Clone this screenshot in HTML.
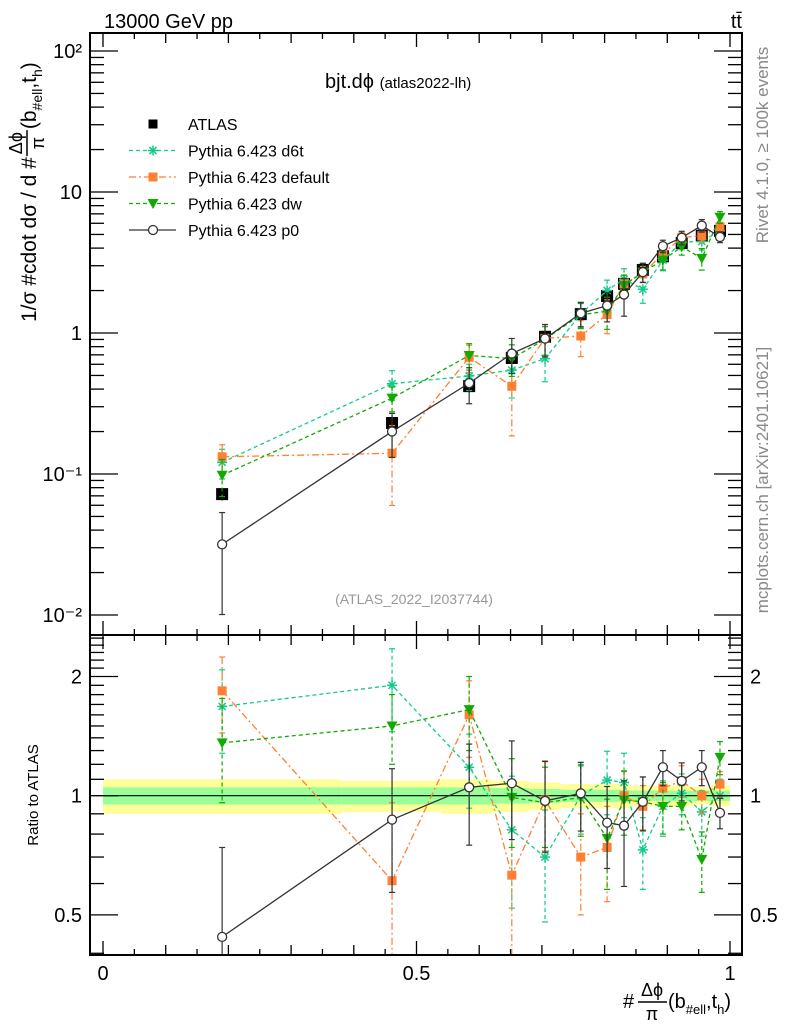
<!DOCTYPE html>
<html><head><meta charset="utf-8"><style>
body{margin:0;background:#fff;}
svg text{font-family:"Liberation Sans",sans-serif;}
</style></head><body>
<svg id="c" width="786" height="1024" xmlns="http://www.w3.org/2000/svg">
<text x="104" y="28" font-size="20">13000 GeV pp</text>
<text x="742" y="28" font-size="20" text-anchor="end">tt̄</text>
<text x="325" y="88" font-size="20">bjt.dϕ <tspan font-size="15">(atlas2022-lh)</tspan></text>
<text x="414" y="604" font-size="14" fill="#999" text-anchor="middle">(ATLAS_2022_I2037744)</text>
<text transform="translate(768,145) rotate(-90)" font-size="17" fill="#888" text-anchor="middle">Rivet 4.1.0, ≥ 100k events</text>
<text transform="translate(768,480) rotate(-90)" font-size="17" fill="#888" text-anchor="middle">mcplots.cern.ch [arXiv:2401.10621]</text>
<g id="ytitle" transform="translate(42,322) rotate(-90)">
<text id="yt1" x="0" y="0" font-size="21">1/σ #cdot dσ / d #</text>
<text id="yt2" x="190" y="-18" font-size="18" text-anchor="middle">Δϕ</text>
<line id="yt3" x1="178" y1="-13" x2="202" y2="-13" stroke="#000" stroke-width="1.5"/>
<text id="yt4" x="190" y="4" font-size="18" text-anchor="middle">π</text>
<text id="yt5" x="204" y="-6" font-size="21">(b<tspan dy="6" font-size="14">#ell</tspan><tspan dy="-6">,t</tspan><tspan dy="6" font-size="14">h</tspan><tspan dy="-6">)</tspan></text>
</g>
<text transform="translate(38,795) rotate(-90)" font-size="15" text-anchor="middle">Ratio to ATLAS</text>
<g>
<text x="623" y="1008" font-size="20">#</text>
<text x="652" y="996" font-size="18" text-anchor="middle">Δϕ</text>
<line x1="638" y1="1002" x2="667" y2="1002" stroke="#000" stroke-width="1.5"/>
<text x="652" y="1020" font-size="18" text-anchor="middle">π</text>
<text x="668" y="1008" font-size="20">(b<tspan dy="6" font-size="13">#ell</tspan><tspan dy="-6">,t</tspan><tspan dy="6" font-size="13">h</tspan><tspan dy="-6">)</tspan></text>
</g>
<g id="g"></g>
</svg>
<script>
const xs=[0.19,0.461,0.584,0.652,0.705,0.762,0.804,0.831,0.861,0.893,0.923,0.955,0.984];
const atlas=[0.072,0.23,0.42,0.665,0.94,1.36,1.83,2.23,2.8,3.5,4.35,4.9,5.3];
const rD6t=[1.68,1.90,1.18,0.82,0.70,1.0,1.095,1.08,0.73,0.94,1.015,0.91,1.0];
const rDef=[1.84,0.61,1.60,0.63,0.975,0.70,0.74,1.0,0.94,1.045,1.09,1.0,1.07];
const rDw=[1.36,1.50,1.65,0.99,0.96,0.99,0.78,0.975,0.965,0.94,0.94,0.69,1.25];
const rP0=[0.44,0.87,1.05,1.075,0.97,1.014,0.855,0.84,0.965,1.18,1.09,1.18,0.905];
const eD6t=[0.4,0.45,0.25,0.3,0.22,0.2,0.2,0.2,0.15,0.15,0.12,0.12,0.1];
const eDef=[0.4,0.35,0.35,0.35,0.25,0.2,0.2,0.15,0.12,0.12,0.1,0.1,0.08];
const eDw=[0.4,0.3,0.35,0.25,0.22,0.2,0.2,0.18,0.15,0.14,0.12,0.12,0.12];
const eP0=[0.3,0.3,0.3,0.3,0.25,0.2,0.2,0.25,0.15,0.12,0.12,0.12,0.08];
const bandEdges=[0,0.38,0.54,0.62,0.68,0.73,0.78,0.82,0.84,0.87,0.90,0.94,0.97,1.0];
const bandTot=[0.10,0.09,0.10,0.09,0.08,0.07,0.07,0.07,0.06,0.06,0.06,0.05,0.06];
const bandStat=[0.05,0.05,0.05,0.045,0.04,0.035,0.035,0.035,0.03,0.03,0.03,0.03,0.03];
const yTickLabels=["10²","10","1","10⁻¹","10⁻²"];
const rTicks=[0.5,1,2];
const xTicks=[0,0.5,1];

// y-title layout
(function(){
 const w=document.getElementById('yt1').getComputedTextLength();
 const cx=w+14;
 document.getElementById('yt2').setAttribute('x',cx);
 document.getElementById('yt4').setAttribute('x',cx);
 document.getElementById('yt3').setAttribute('x1',cx-13);
 document.getElementById('yt3').setAttribute('x2',cx+13);
 document.getElementById('yt5').setAttribute('x',cx+14);
 document.getElementById('yt5').setAttribute('y',0);
 document.getElementById('yt2').setAttribute('y',-20);
 document.getElementById('yt3').setAttribute('y1',-15);
 document.getElementById('yt3').setAttribute('y2',-15);
 document.getElementById('yt4').setAttribute('y',2);
 document.getElementById('yt1').setAttribute('y',-6);
 document.getElementById('yt5').setAttribute('y',-6);
})();

const L=90,R=742,T=33,MB=635,RB=955;
const X=v=>103+627*v;
const Y=v=>333-141*Math.log10(v);
const RY=v=>795.7-396*Math.log10(v);
const NS="http://www.w3.org/2000/svg";
const g=document.getElementById('g');
function el(t,a,p){const e=document.createElementNS(NS,t);for(const k in a)e.setAttribute(k,a[k]);(p||g).appendChild(e);return e;}

const bandG=el('g',{});


for(let i=0;i<bandTot.length;i++){
 const x1=X(bandEdges[i]),x2=X(bandEdges[i+1]);
 el('rect',{x:x1,y:RY(1+bandTot[i]),width:x2-x1,height:RY(1-bandTot[i])-RY(1+bandTot[i]),fill:'#ffff99'},bandG);
}
for(let i=0;i<bandStat.length;i++){
 const x1=X(bandEdges[i]),x2=X(bandEdges[i+1]);
 el('rect',{x:x1,y:RY(1+bandStat[i]),width:x2-x1,height:RY(1-bandStat[i])-RY(1+bandStat[i]),fill:'#99ff99'},bandG);
}
el('line',{x1:X(0),x2:X(1),y1:RY(1),y2:RY(1),stroke:'#000','stroke-width':1.2});

const series=[
 {n:'d6t',r:rD6t,e:eD6t,c:'#11cc88',d:'4,3',m:'star'},
 {n:'default',r:rDef,e:eDef,c:'#ff7f33',d:'7,3,2,3',m:'sq'},
 {n:'dw',r:rDw,e:eDw,c:'#11aa00',d:'4,3',m:'tri'},
 {n:'p0',r:rP0,e:eP0,c:'#333',d:'',m:'circ'}
];
function marker(m,x,y,c,p){
 if(m==='sq')el('rect',{x:x-4.5,y:y-4.5,width:9,height:9,fill:c},p);
 else if(m==='tri')el('path',{d:`M${x-5.5},${y-4.5}L${x+5.5},${y-4.5}L${x},${y+5.5}Z`,fill:c},p);
 else if(m==='circ')el('circle',{cx:x,cy:y,r:4.5,fill:'#fff',stroke:c,'stroke-width':1.3},p);
 else if(m==='star'){for(let a=0;a<4;a++){const t=a*Math.PI/4;el('line',{x1:x-5*Math.cos(t),y1:y-5*Math.sin(t),x2:x+5*Math.cos(t),y2:y+5*Math.sin(t),stroke:c,'stroke-width':1.5},p);}}
 else if(m==='big')el('rect',{x:x-6,y:y-6,width:12,height:12,fill:c},p);
}
function drawSeries(s,yf,vals,errLo,errHi,top,bot,pname){
 const sg=el('g',{});
 
 
 const clip=v=>Math.max(top,Math.min(bot,v));
 let pts=xs.map((x,i)=>X(x)+','+clip(yf(vals[i]))).join(' ');
 el('polyline',{points:pts,fill:'none',stroke:s.c,'stroke-width':1.3,'stroke-dasharray':s.d},sg);
 xs.forEach((x,i)=>{
  const px=X(x),y1=clip(yf(errHi[i])),y2=clip(yf(errLo[i]));
  el('line',{x1:px,x2:px,y1:y1,y2:y2,stroke:s.c,'stroke-width':1.2,'stroke-dasharray':s.d},sg);
  el('line',{x1:px-3,x2:px+3,y1:y1,y2:y1,stroke:s.c,'stroke-width':1.2},sg);
  el('line',{x1:px-3,x2:px+3,y1:y2,y2:y2,stroke:s.c,'stroke-width':1.2},sg);
  const yy=yf(vals[i]);
  if(yy>=top&&yy<=bot)marker(s.m,px,yy,s.c,sg);
 });
}
const ag=el('g',{});


xs.forEach((x,i)=>{
 const px=X(x);
 el('line',{x1:px,x2:px,y1:Y(atlas[i]*(1+bandTot[i])),y2:Y(atlas[i]*(1-bandTot[i])),stroke:'#000','stroke-width':1.2},ag);
 marker('big',px,Y(atlas[i]),'#000',ag);
});
series.forEach(s=>{
 const v=atlas.map((a,i)=>a*s.r[i]);
 const lo=atlas.map((a,i)=>a*Math.max(0.01,s.r[i]-s.e[i]));
 const hi=atlas.map((a,i)=>a*(s.r[i]+s.e[i]));
 drawSeries(s,Y,v,lo,hi,T,MB,'main-series-'+s.n);
 const rlo=s.r.map((r,i)=>Math.max(0.01,r-s.e[i]));
 const rhi=s.r.map((r,i)=>r+s.e[i]);
 drawSeries(s,RY,s.r,rlo,rhi,MB,RB,'ratio-series-'+s.n);
});

el('rect',{x:L,y:T,width:R-L,height:MB-T,fill:'none',stroke:'#000','stroke-width':2});
el('rect',{x:L,y:MB,width:R-L,height:RB-MB,fill:'none',stroke:'#000','stroke-width':2});
for(let k=0;k<=20;k++){
 const v=k*0.05,px=X(v),maj=(k%10===0),len=maj?14:(k%2===0?10:6);
 [[T,1],[MB,-1],[MB,1],[RB,-1]].forEach(([y0,d])=>el('line',{x1:px,x2:px,y1:y0,y2:y0+d*len,stroke:'#000','stroke-width':1.3}));
}
xTicks.forEach(v=>{const t=el('text',{x:X(v),y:980,'font-size':20,'text-anchor':'middle'});t.textContent=String(v);

});
for(let e=-2;e<=2;e++){
 for(let m=1;m<=9;m++){
  const v=m*Math.pow(10,e),py=Y(v);
  if(py<T||py>MB)continue;
  const len=m===1?28:14;
  el('line',{x1:L,x2:L+len,y1:py,y2:py,stroke:'#000','stroke-width':1.3});
  el('line',{x1:R,x2:R-len,y1:py,y2:py,stroke:'#000','stroke-width':1.3});
 }
}
yTickLabels.forEach((lab,i)=>{const t=el('text',{x:82,y:Y(Math.pow(10,2-i))+7,'font-size':20,'text-anchor':'end'});t.textContent=lab;

});
for(let k=4;k<=25;k++){
 const v=k/10,py=RY(v);if(py<MB||py>RB)continue;
 const maj=rTicks.includes(v),len=maj?28:14;
 el('line',{x1:L,x2:L+len,y1:py,y2:py,stroke:'#000','stroke-width':1.3});
 el('line',{x1:R,x2:R-len,y1:py,y2:py,stroke:'#000','stroke-width':1.3});
}
rTicks.forEach(v=>{
 const t=el('text',{x:82,y:RY(v)+7,'font-size':20,'text-anchor':'end'});t.textContent=String(v);
 
 
 const t2=el('text',{x:750,y:RY(v)+7,'font-size':20});t2.textContent=String(v);
 
 
});
const lg=el('g',{});


const legNames=['ATLAS','Pythia 6.423 d6t','Pythia 6.423 default','Pythia 6.423 dw','Pythia 6.423 p0'];
legNames.forEach((nm,i)=>{
 const y=124+i*26.5;
 const eg=el('g',{},lg);
 
 
 if(i===0)marker('sq',153,y,'#000',eg);
 else{const s=series[i-1];el('line',{x1:129,x2:176,y1:y,y2:y,stroke:s.c,'stroke-width':1.3,'stroke-dasharray':s.d},eg);marker(s.m,153,y,s.c,eg);}
 const t=el('text',{x:188,y:y+6,'font-size':16},eg);t.textContent=nm;
});
</script>
</body></html>
